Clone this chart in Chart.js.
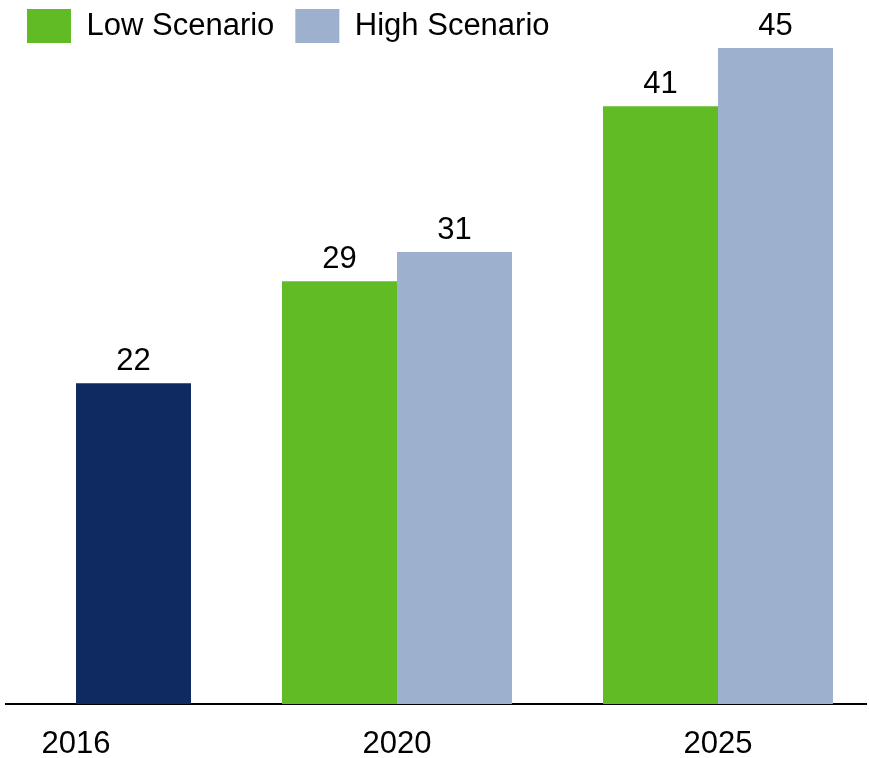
<!DOCTYPE html>
<html>
<head>
<meta charset="utf-8">
<title>Scenarios</title>
<script src="https://cdn.jsdelivr.net/npm/chart.js@4.4.1/dist/chart.umd.min.js"></script>
<style>
  html, body { margin: 0; padding: 0; background: #fff; }
  #wrap { position: relative; width: 869px; height: 758px; }
</style>
</head>
<body>
<div id="wrap"><canvas id="chart"></canvas></div>
<script>
// ── Data ──────────────────────────────────────────────────────────────
const years = ['2016', '2020', '2025'];
const lowScenario = [null, 29, 41];
const actual = [22, null, null];
const highScenario = [null, 31, 45];

const sans = '"Liberation Sans", Arial, sans-serif';
const toPoints = arr => arr.map((y, i) => ({ x: i, y }));

// Value printed above each bar
const valueLabels = {
    id: 'valueLabels',
    afterDatasetsDraw(chart) {
        const { ctx } = chart;
        ctx.save();
        ctx.font = `31px ${sans}`;
        ctx.fillStyle = '#000';
        ctx.textAlign = 'center';
        ctx.textBaseline = 'alphabetic';
        chart.data.datasets.forEach((ds, i) => {
            chart.getDatasetMeta(i).data.forEach((bar, j) => {
                const v = ds.data[j].y;
                if (v == null) return;
                ctx.fillText(String(v), bar.x, bar.y - 13);
            });
        });
        ctx.restore();
    }
};

// Pull the legend row up closer to the top edge
const liftLegend = {
    id: 'liftLegend',
    afterLayout(chart) {
        if (chart.legend) chart.legend.top -= 12;
    }
};

new Chart(document.getElementById('chart'), {
    type: 'bar',
    data: {
        // stack ids decide the slot: 'a' left, 'b' right
        datasets: [
            { label: 'Low Scenario', data: toPoints(lowScenario), backgroundColor: '#61bb24', stack: 'a', clip: false },
            { label: 'Actual', data: toPoints(actual), backgroundColor: '#0f2a5e', stack: 'b', clip: false },
            { label: 'High Scenario', data: toPoints(highScenario), backgroundColor: '#9db0ce', stack: 'b', clip: false },
        ]
    },
    options: {
        responsive: true, maintainAspectRatio: false, animation: false,
        categoryPercentage: 0.7165, barPercentage: 1,
        layout: { padding: { top: 0, left: 6, right: 3, bottom: 0 } },
        plugins: {
            legend: {
                position: 'top', align: 'start',
                labels: {
                    filter: item => item.text !== 'Actual',
                    color: '#000', font: { family: sans, size: 31 },
                    boxWidth: 44, boxHeight: 34, padding: 21
                }
            },
            tooltip: { enabled: false }
        },
        scales: {
            x: {
                type: 'linear', offset: false,
                min: -0.2181, max: 2.4611,
                grid: { display: false, drawTicks: false },
                border: { display: true, color: '#000', width: 2 },
                afterFit: scale => { scale.height = 54; },
                ticks: {
                    stepSize: 1, includeBounds: false, autoSkip: false, maxRotation: 0,
                    color: '#000', font: { family: sans, size: 31 }, padding: 22,
                    callback: v => years[v] ?? ''
                }
            },
            y: { display: false, min: 0, max: 43.83 }
        }
    },
    plugins: [valueLabels, liftLegend]
});
</script>
</body>
</html>
